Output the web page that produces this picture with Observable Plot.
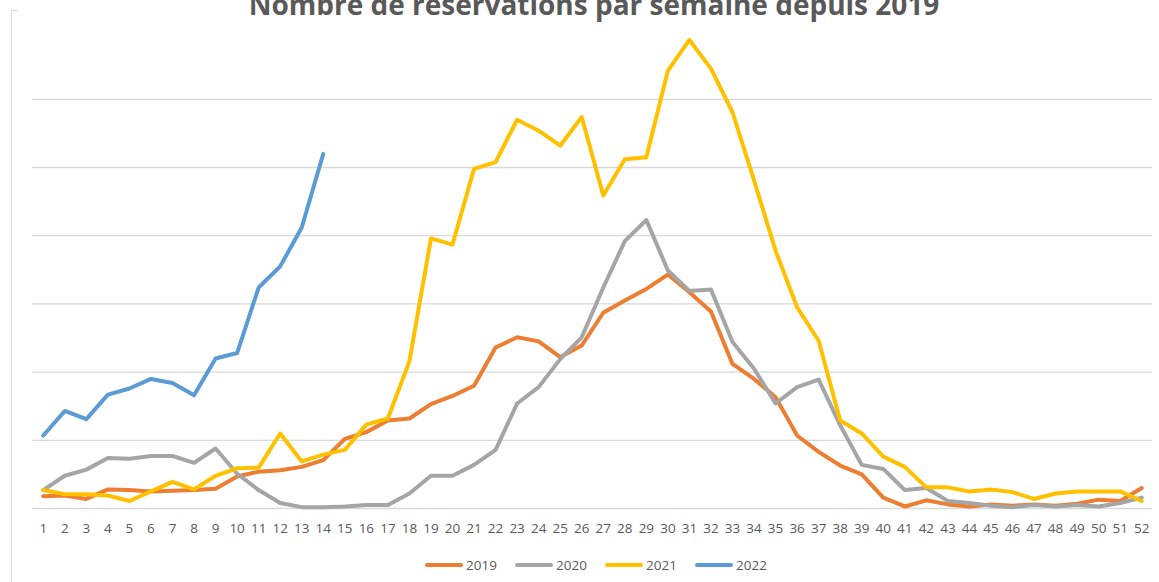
<!DOCTYPE html>
<html><head><meta charset="utf-8">
<script src="https://cdn.jsdelivr.net/npm/d3@7"></script>
<script src="https://cdn.jsdelivr.net/npm/@observablehq/plot@0.6"></script>
<style>
body{margin:0;background:#fff;}
#wrap{position:relative;width:1159px;height:582px;overflow:hidden;font-family:"Open Sans",sans-serif;background:#fff;}
#border{position:absolute;left:11px;top:10px;width:5px;height:600px;border-left:1.5px solid #d9d9d9;border-top:1.5px solid #d9d9d9;}
#title{position:absolute;left:0;top:0;}
#chart{position:absolute;left:0;top:0;}
#legend{position:absolute;left:425px;top:556px;display:flex;align-items:center;font-size:13.5px;color:#595959;}
#legend .item{display:flex;align-items:center;width:90px;}
#legend svg{margin-right:3px;}
</style></head><body><div id="wrap"><div id="border"></div><div id="chart"></div><svg id="title" width="1159" height="30"></svg><div id="legend"></div></div>
<script>
const title = "Nombre de réservations par semaine depuis 2019";
const weeks = d3.range(1, 53);
const years = ["2019", "2020", "2021", "2022"];
const colors = ["#ED7D31", "#A5A5A5", "#FFC000", "#5B9BD5"];
const gridValues = [0, 1, 2, 3, 4, 5, 6];

const v2019 = [0.18,0.19,0.14,0.28,0.27,0.25,0.26,0.27,0.29,0.47,
  0.54,0.56,0.61,0.71,1.02,1.12,1.29,1.32,1.53,1.65,
  1.80,2.36,2.51,2.45,2.22,2.39,2.87,3.05,3.22,3.43,
  3.17,2.89,2.12,1.90,1.63,1.07,0.83,0.63,0.50,0.16,
  0.03,0.12,0.06,0.03,0.06,0.04,0.06,0.04,0.07,0.13,
  0.11,0.30];
const v2020 = [0.27,0.48,0.57,0.74,0.73,0.77,0.77,0.67,0.88,0.51,
  0.27,0.08,0.02,0.02,0.03,0.05,0.05,0.22,0.48,0.48,
  0.64,0.86,1.54,1.78,2.19,2.51,3.24,3.92,4.23,3.49,
  3.19,3.21,2.44,2.05,1.54,1.78,1.89,1.22,0.64,0.58,
  0.27,0.30,0.11,0.08,0.04,0.02,0.05,0.03,0.05,0.03,
  0.08,0.16];
const v2021 = [0.27,0.21,0.21,0.19,0.11,0.25,0.39,0.28,0.48,0.59,
  0.60,1.10,0.69,0.79,0.86,1.23,1.32,2.16,3.96,3.87,
  4.98,5.08,5.70,5.54,5.32,5.74,4.59,5.12,5.15,6.42,
  6.87,6.45,5.81,4.81,3.78,2.95,2.46,1.29,1.10,0.76,
  0.61,0.31,0.31,0.25,0.28,0.24,0.14,0.22,0.25,0.25,
  0.25,0.11];
const v2022 = [1.07,1.43,1.31,1.67,1.76,1.90,1.84,1.66,2.20,2.28,
  3.24,3.55,4.12,5.20];

const series = [v2019, v2020, v2021, v2022];
const data = series.map((vals, i) => vals.map((v, j) => ({week: weeks[j], value: v, year: years[i]})));

const chart = Plot.plot({
  width: 1159,
  height: 545,
  marginLeft: 32,
  marginRight: 7,
  marginTop: 30.6,
  marginBottom: 37,
  style: {fontFamily: "'Open Sans', sans-serif", fontSize: "13.5px", color: "#595959", background: "transparent"},
  x: {domain: [0.5, 52.5], axis: null},
  y: {domain: [0, 7], axis: null},
  color: {domain: years, range: colors},
  marks: [
    Plot.ruleY(gridValues, {stroke: "#d9d9d9", strokeWidth: 1.3}),
    Plot.axisX(weeks, {tickSize: 0, tickPadding: 15, tickFormat: d => String(d), label: null, fontSize: 13.5}),
    ...data.map(d => Plot.line(d, {x: "week", y: "value", stroke: "year", strokeWidth: 4, strokeLinejoin: "round", strokeLinecap: "round"}))
  ]
});
document.getElementById("chart").appendChild(chart);

d3.select("#title").append("text")
  .attr("x", 594).attr("y", 14.5)
  .attr("text-anchor", "middle")
  .attr("font-family", "'Open Sans', sans-serif")
  .attr("font-weight", "bold")
  .attr("font-size", 28)
  .attr("fill", "#595959")
  .text(title);

const legend = d3.select("#legend");
years.forEach((y, i) => {
  const item = legend.append("div").attr("class", "item");
  const s = item.append("svg").attr("width", 38).attr("height", 8);
  s.append("line").attr("x1", 2).attr("x2", 36).attr("y1", 4).attr("y2", 4)
    .attr("stroke", colors[i]).attr("stroke-width", 4).attr("stroke-linecap", "round");
  item.append("span").text(y);
});
</script>
</body></html>
